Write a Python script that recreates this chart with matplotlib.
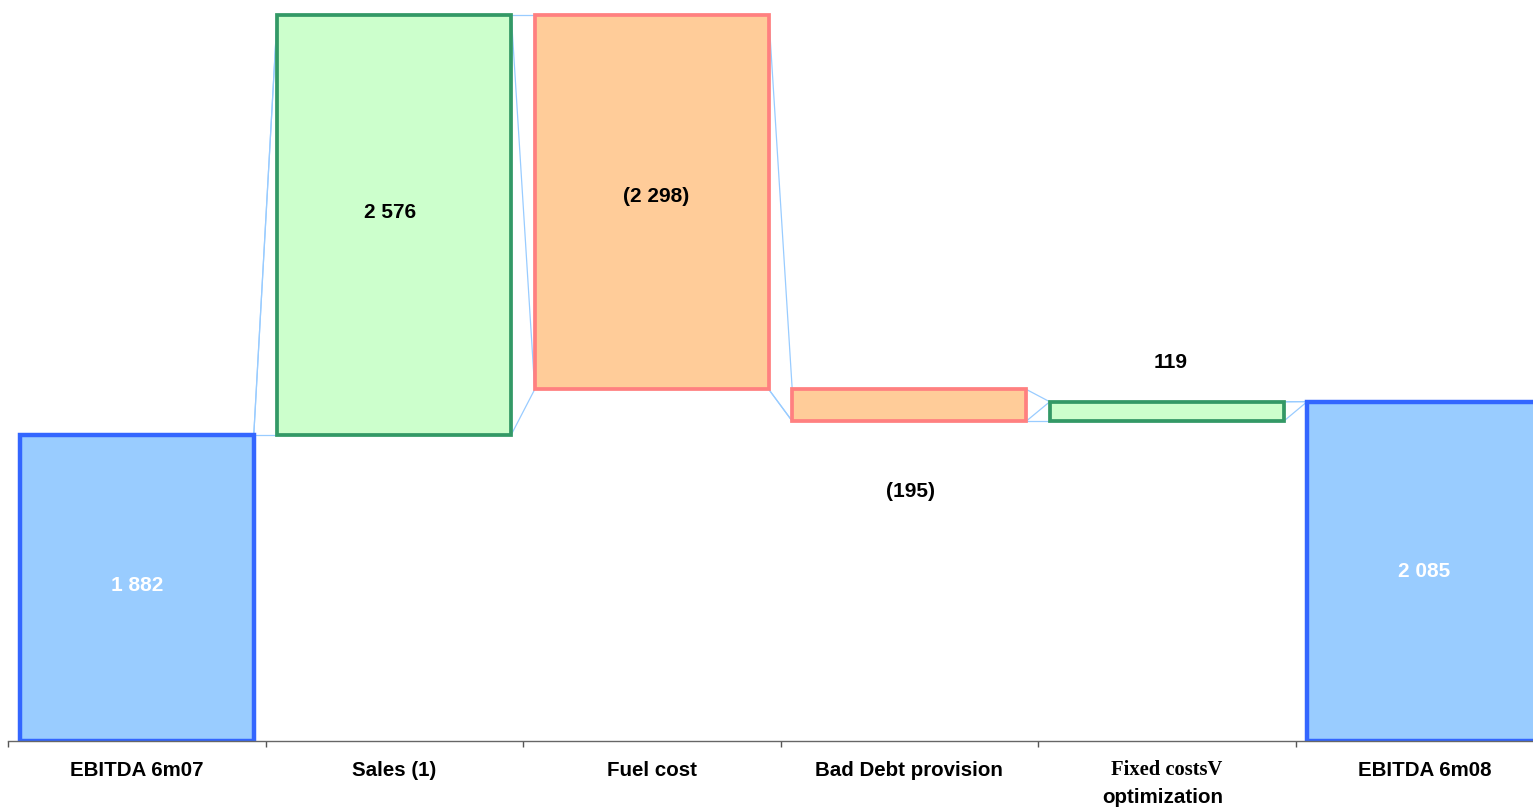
import numpy as np
import matplotlib
matplotlib.use('Agg')
from matplotlib import pyplot as plt

# EBITDA bridge, 6m07 -> 6m08
categories = ['EBITDA 6m07', 'Sales (1)', 'Fuel cost', 'Bad Debt provision',
              'Fixed costsV', 'EBITDA 6m08']
sub_labels = ['', '', '', '', 'optimization', '']
values = [1882, 2576, -2298, -195, 119, 2085]
kinds = ['total', 'up', 'down', 'down', 'up', 'total']
value_labels = ['1 882', '2 576', '(2 298)', '(195)', '119', '2 085']

colors = {
    'total': ('#99ccff', '#3366ff'),
    'up': ('#ccffcc', '#339966'),
    'down': ('#ffcc99', '#ff8080'),
}
# nudge of each value label from the middle of its bar (points)
label_nudge = [(0, 2), (-3, 9), (3, 4), (1, -62), (3, 35), (0, 0)]

plt.rcParams['font.family'] = ['Liberation Sans', 'DejaVu Sans']


def stack_levels(values, kinds):
    # cumulative tops of the three stacked pieces: base, increase, decrease
    base, up, down = [], [], []
    running = 0
    for v, k in zip(values, kinds):
        if k == 'total':
            running = v
            base.append(v); up.append(0); down.append(0)
        elif k == 'up':
            base.append(running); up.append(v); down.append(0)
            running += v
        else:
            running += v
            base.append(running); up.append(0); down.append(-v)
    base, up, down = np.array(base), np.array(up), np.array(down)
    return base, up, down


base, up, down = stack_levels(values, kinds)
levels = np.vstack([base, base + up, base + up + down]).T

W, H = 1533, 811
fig = plt.figure(figsize=(W / 100, H / 100), dpi=100)
ax = fig.add_axes([8 / W, 70 / H, 1545 / W, 741 / H])

n = len(values)
x = np.arange(n)
width = 0.909

# series lines between neighbouring bars
for i in range(n - 1):
    for k in range(3):
        ax.plot([i + width / 2, i + 1 - width / 2],
                [levels[i, k], levels[i + 1, k]],
                color='#99ccff', lw=0.9, zorder=1)

for i, k in enumerate(kinds):
    face, edge = colors[k]
    if k == 'total':
        bottom, height = 0, base[i]
        lw = 3.2
    elif k == 'up':
        bottom, height = base[i], up[i]
        lw = 2.7
    else:
        bottom, height = base[i] + up[i], down[i]
        lw = 2.7
    ax.bar(x[i], height, bottom=bottom, width=width, color=face,
           edgecolor=edge, linewidth=lw, zorder=2)

    txt_color = 'white' if k == 'total' else 'black'
    ax.annotate(value_labels[i], xy=(x[i], bottom + height / 2),
                xytext=label_nudge[i], textcoords='offset points',
                ha='center', va='center', fontsize=15, fontweight='bold',
                color=txt_color, zorder=3)

# category names under the axis
for i in range(n):
    fam = ['Liberation Serif'] if sub_labels[i] else ['Liberation Sans']
    ax.annotate(categories[i], xy=(x[i], 0), xycoords=('data', 'axes fraction'),
                xytext=(0, -21), textcoords='offset points', ha='center',
                va='center', fontsize=14.8, fontweight='bold', family=fam)
    if sub_labels[i]:
        ax.annotate(sub_labels[i], xy=(x[i], 0), xycoords=('data', 'axes fraction'),
                    xytext=(-3, -41), textcoords='offset points', ha='center',
                    va='center', fontsize=14.8, fontweight='bold')

ax.set_xlim(-0.5, n - 0.5)
ax.set_ylim(0, 4552)
ax.set_xticks(np.arange(n + 1) - 0.5)
ax.set_xticklabels([])
ax.tick_params(axis='x', direction='out', length=4, width=1, color='#555555')
ax.set_yticks([])
for side in ['left', 'top', 'right']:
    ax.spines[side].set_visible(False)
ax.spines['bottom'].set_color('#666666')
ax.spines['bottom'].set_linewidth(1)
ax.patch.set_alpha(0)

fig.savefig('out.png', dpi=100)
